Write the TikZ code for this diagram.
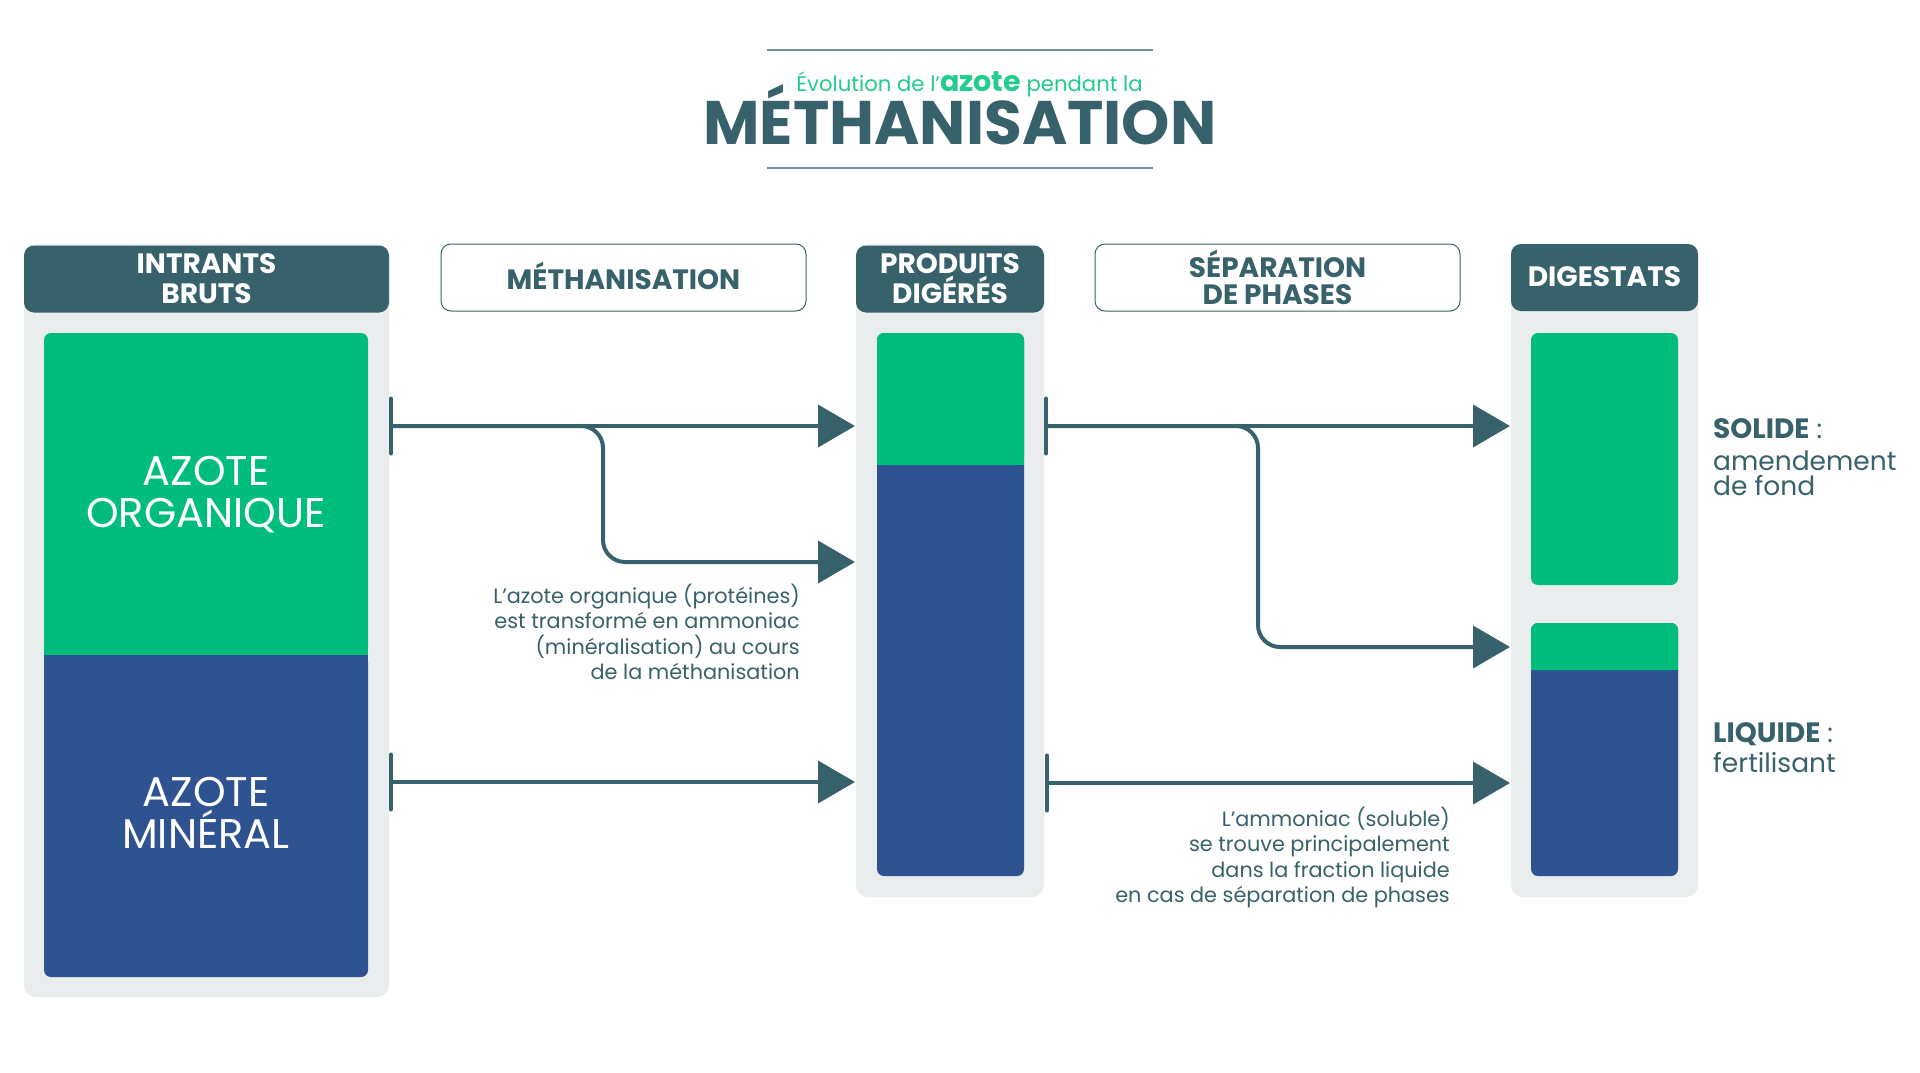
\documentclass[tikz,border=0pt]{standalone}
\usepackage{fontspec}
\setmainfont{Poppins}
\usetikzlibrary{arrows.meta}
\definecolor{dteal}{HTML}{37616B}
\definecolor{cgreen}{HTML}{00BD7E}
\definecolor{cblue}{HTML}{2F5391}
\definecolor{pgray}{HTML}{E9EDEE}
\definecolor{lgreen}{HTML}{22CC8C}
\definecolor{rulec}{HTML}{6F8E95}
\begin{document}
\begin{tikzpicture}[x=1pt,y=-1pt,
  panel/.style={fill=pgray, rounded corners=12pt, inner sep=0pt},
  hdr/.style={fill=dteal, rounded corners=10pt, text=white, inner sep=0pt, align=center,
    font=\bfseries\fontsize{28}{30}\selectfont},
  proc/.style={draw=dteal, line width=1pt, fill=white, rounded corners=10pt, text=dteal, inner sep=0pt, align=center,
    font=\bfseries\fontsize{28}{27}\selectfont},
  blk/.style={rounded corners=7pt, inner sep=0pt},
  biglbl/.style={text=white, align=center, font=\fontsize{41.5}{42}\selectfont},
  note/.style={text=dteal, align=right, inner sep=0pt, font=\fontsize{20.8}{25.3}\selectfont},
  sidet/.style={text=dteal, inner sep=0pt, align=left, font=\fontsize{26.5}{25}\selectfont},
  sideb/.style={text=dteal, inner sep=0pt, font=\bfseries\fontsize{28}{28}\selectfont},
  flow/.style={draw=dteal, line width=4pt, {Bar[width=55pt,round]}-{Triangle[length=37pt,width=42pt]}},
  flowb/.style={draw=dteal, line width=4pt, rounded corners=22pt, -{Triangle[length=37pt,width=42pt]}}
]
\useasboundingbox (0,0) rectangle (1920,1073);
\fill[white] (0,0) rectangle (1920,1073);

% title
\coordinate (tl1) at (767,50); \coordinate (tr1) at (1153,50);
\coordinate (tl2) at (767,168); \coordinate (tr2) at (1153,168);
\draw[rulec, line width=1.2pt] (tl1) -- (tr1);
\draw[rulec, line width=1.2pt] (tl2) -- (tr2);
\node[anchor=base, inner sep=0pt, text=lgreen, font=\fontsize{21.2}{21}\selectfont] (sub) at (969.5,92)
  {Évolution de l’{\bfseries\fontsize{28.5}{28}\selectfont azote} pendant la};
\node[anchor=base, inner sep=0pt, text=dteal, font=\bfseries\fontsize{61.5}{62}\selectfont] (title) at (960,144.5) {MÉTHANISATION};

% column 1
\node[panel, minimum width=365pt, minimum height=753pt] (p1) at (206.5,620.5) {};
\node[hdr, minimum width=365pt, minimum height=67pt] (h1) at (206.5,279) {INTRANTS\\BRUTS};
\node[blk, fill=cgreen, minimum width=324pt, minimum height=322pt] (g1) at (206,494) {};
\node[blk, fill=cblue, minimum width=324pt, minimum height=322pt] (b1) at (206,816) {};
\fill[cgreen] (44,640) rectangle (368,655.5);
\fill[cblue] (44,655) rectangle (368,670);
\node[biglbl] (lg1) at (206,495) {AZOTE\\ORGANIQUE};
\node[biglbl] (lb1) at (206,813) {AZOTE\\MINÉRAL};

% column 2
\node[proc, minimum width=365pt, minimum height=67pt] (m1) at (623.5,277.5) {\raisebox{3pt}{MÉTHANISATION}};

% column 3
\node[panel, minimum width=188pt, minimum height=653pt] (p3) at (950,570.5) {};
\node[hdr, minimum width=188pt, minimum height=67pt] (h3) at (950,279) {PRODUITS\\DIGÉRÉS};
\node[blk, fill=cblue, minimum width=147pt, minimum height=543pt] (b3) at (950.5,604.5) {};
\node[blk, fill=cgreen, minimum width=147pt, minimum height=132pt] (g3) at (950.5,399) {};
\fill[cgreen] (877,450) rectangle (1024,465);

% column 4
\node[proc, minimum width=365pt, minimum height=67pt] (s4) at (1277.5,277.5) {SÉPARATION\\DE PHASES};

% column 5
\node[panel, minimum width=187pt, minimum height=653pt] (p5) at (1604.5,570.5) {};
\node[hdr, minimum width=187pt, minimum height=67pt] (h5) at (1604.5,277.5) {\raisebox{1pt}{DIGESTATS}};
\node[blk, fill=cgreen, minimum width=147pt, minimum height=252pt] (g5) at (1604.5,459) {};
\node[blk, fill=cblue, minimum width=147pt, minimum height=253pt] (b5) at (1604.5,749.5) {};
\node[blk, fill=cgreen, minimum width=147pt, minimum height=47pt] (g5b) at (1604.5,646.5) {};
\fill[cgreen] (1531,658) rectangle (1678,670);

% arrows left
\coordinate (a1s) at (389,426); \coordinate (a1e) at (855,426);
\coordinate (a2e) at (855,562);
\coordinate (a3s) at (389,782); \coordinate (a3e) at (855,782);
\draw[flowb] (a1s) -- ++(214,0) |- (a2e);
\draw[flow] (a1s) -- (a1e);
\draw[flow] (a3s) -- (a3e);

% arrows right
\coordinate (c1s) at (1044,426); \coordinate (c1e) at (1510,426);
\coordinate (c2e) at (1510,647);
\coordinate (c3s) at (1045,783); \coordinate (c3e) at (1510,783);
\draw[flowb] (c1s) -- ++(214,0) |- (c2e);
\draw[flow] (c1s) -- (c1e);
\draw[flow] (c3s) -- (c3e);

% notes
\node[note, anchor=north east] (n1) at (800,584)
  {L’azote organique (protéines)\\est transformé en ammoniac\\(minéralisation) au cours\\de la méthanisation};
\node[note, anchor=north east] (n2) at (1450,807)
  {L’ammoniac (soluble)\\se trouve principalement\\dans la fraction liquide\\en cas de séparation de phases};

% side labels
\node[sidet, anchor=base west] (sol) at (1713,438) {{\fontsize{28}{28}\bfseries SOLIDE} :};
\node[sidet, anchor=base west] (sol2) at (1713,470) {amendement};
\node[sidet, anchor=base west] (sol3) at (1713,495) {de fond};
\node[sidet, anchor=base west] (liq) at (1713,742) {{\fontsize{28}{28}\bfseries LIQUIDE} :};
\node[sidet, anchor=base west] (liq2) at (1713,772) {fertilisant};
\end{tikzpicture}
\end{document}
